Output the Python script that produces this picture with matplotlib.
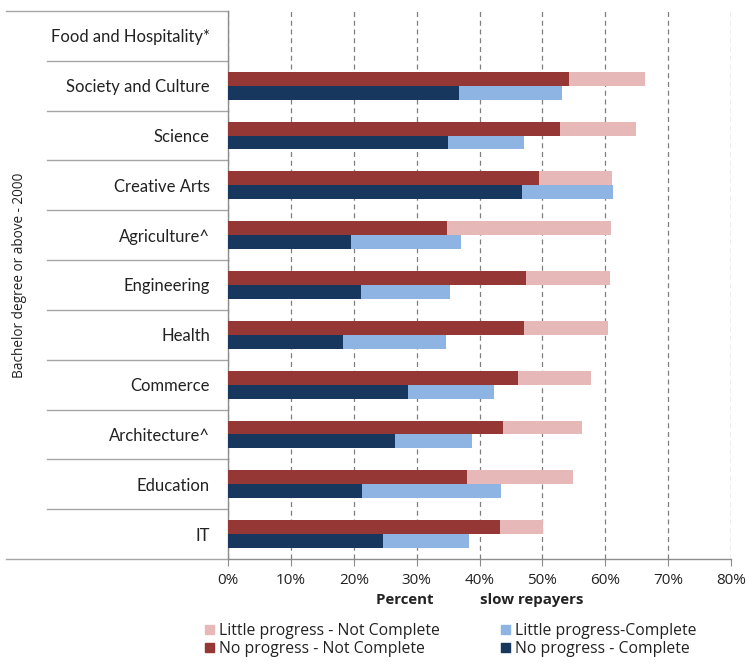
import matplotlib
matplotlib.use("Agg")
import matplotlib.pyplot as plt
import numpy as np
from matplotlib.lines import Line2D
from matplotlib.patches import Patch
from matplotlib.transforms import blended_transform_factory

# Fields of study, top to bottom
categories = ["Food and Hospitality*", "Society and Culture", "Science", "Creative Arts",
              "Agriculture^", "Engineering", "Health", "Commerce", "Architecture^",
              "Education", "IT"]

# Percent of slow repayers (NaN = not reported)
no_progress_not_complete = [np.nan, 54.3, 52.8, 49.5, 34.8, 47.4, 47.1, 46.2, 43.8, 38.0, 43.2]
little_progress_not_complete = [np.nan, 12.0, 12.1, 11.6, 26.1, 13.4, 13.3, 11.5, 12.5, 16.8, 6.9]
no_progress_complete = [np.nan, 36.7, 35.0, 46.7, 19.6, 21.1, 18.3, 28.7, 26.6, 21.3, 24.6]
little_progress_complete = [np.nan, 16.5, 12.1, 14.6, 17.5, 14.2, 16.3, 13.6, 12.2, 22.1, 13.7]

x_ticks = [0, 10, 20, 30, 40, 50, 60, 70, 80]
x_tick_labels = ["0%", "10%", "20%", "30%", "40%", "50%", "60%", "70%", "80%"]

c_red = "#953735"
c_pink = "#E6B9B8"
c_navy = "#17375E"
c_lblue = "#8DB4E2"
c_line = "#8C8C8C"

plt.rcParams["font.family"] = ["Open Sans", "DejaVu Sans"]

fig = plt.figure(figsize=(7.46, 6.66), dpi=100)
ax = fig.add_axes([228 / 746, 1 - 559 / 666, (731 - 228) / 746, (559 - 11) / 666])

n = len(categories)
y = np.arange(n)
h = 0.28

npnc = np.nan_to_num(np.array(no_progress_not_complete, dtype=float))
lpnc = np.nan_to_num(np.array(little_progress_not_complete, dtype=float))
npc = np.nan_to_num(np.array(no_progress_complete, dtype=float))
lpc = np.nan_to_num(np.array(little_progress_complete, dtype=float))

ax.barh(y - h / 2, npnc, height=h, color=c_red, zorder=3)
ax.barh(y - h / 2, lpnc, left=npnc, height=h, color=c_pink, zorder=3)
ax.barh(y + h / 2, npc, height=h, color=c_navy, zorder=3)
ax.barh(y + h / 2, lpc, left=npc, height=h, color=c_lblue, zorder=3)

ax.set_ylim(n - 0.5, -0.5)
ax.set_xlim(0, 80)
ax.set_xticks(x_ticks)
ax.set_xticklabels(x_tick_labels, fontsize=11, color="#222222")
ax.tick_params(axis="x", length=5, color=c_line, pad=5)
ax.set_yticks(y)
ax.set_yticklabels(categories, fontsize=12, color="#222222", family=["Lato", "DejaVu Sans"])
ax.tick_params(axis="y", length=0, pad=13)

ax.grid(axis="x", linestyle=(0, (4, 3)), color="#7F7F7F", linewidth=0.9, zorder=0)
for s in ["top", "right"]:
    ax.spines[s].set_visible(False)
for s in ["left", "bottom"]:
    ax.spines[s].set_color(c_line)
    ax.spines[s].set_linewidth(1.0)

# Category separators in the label column
tr = blended_transform_factory(fig.transFigure, ax.transData)
for b in np.arange(0.5, n - 1, 1.0):
    ax.add_line(Line2D([47 / 746, 228 / 746], [b, b], transform=tr, color="#A6A6A6",
                       linewidth=1.0, clip_on=False))
for b in [-0.5, n - 0.5]:
    ax.add_line(Line2D([6 / 746, 228 / 746], [b, b], transform=tr, color="#A6A6A6",
                       linewidth=1.0, clip_on=False))

ax.set_xlabel("Percent            slow repayers", fontsize=10.8, fontweight="bold",
              color="#222222", labelpad=4)

fig.text(20 / 746, 1 - 275 / 666, "Bachelor degree or above - 2000", rotation=90,
         ha="center", va="center", fontsize=9.8, color="#222222")

handles = [Patch(color=c_pink), Patch(color=c_red), Patch(color=c_lblue), Patch(color=c_navy)]
labels = ["Little progress - Not Complete", "No progress - Not Complete",
          "Little progress-Complete", "No progress - Complete"]
fig.legend(handles, labels, ncol=2, loc="center", bbox_to_anchor=(451 / 746, 1 - 640 / 666),
           frameon=False, fontsize=11.3, handlelength=0.55, handleheight=0.55,
           handletextpad=0.35, columnspacing=3.9, labelspacing=0.15,
           labelcolor="#222222")

fig.savefig("out.png", dpi=100)
